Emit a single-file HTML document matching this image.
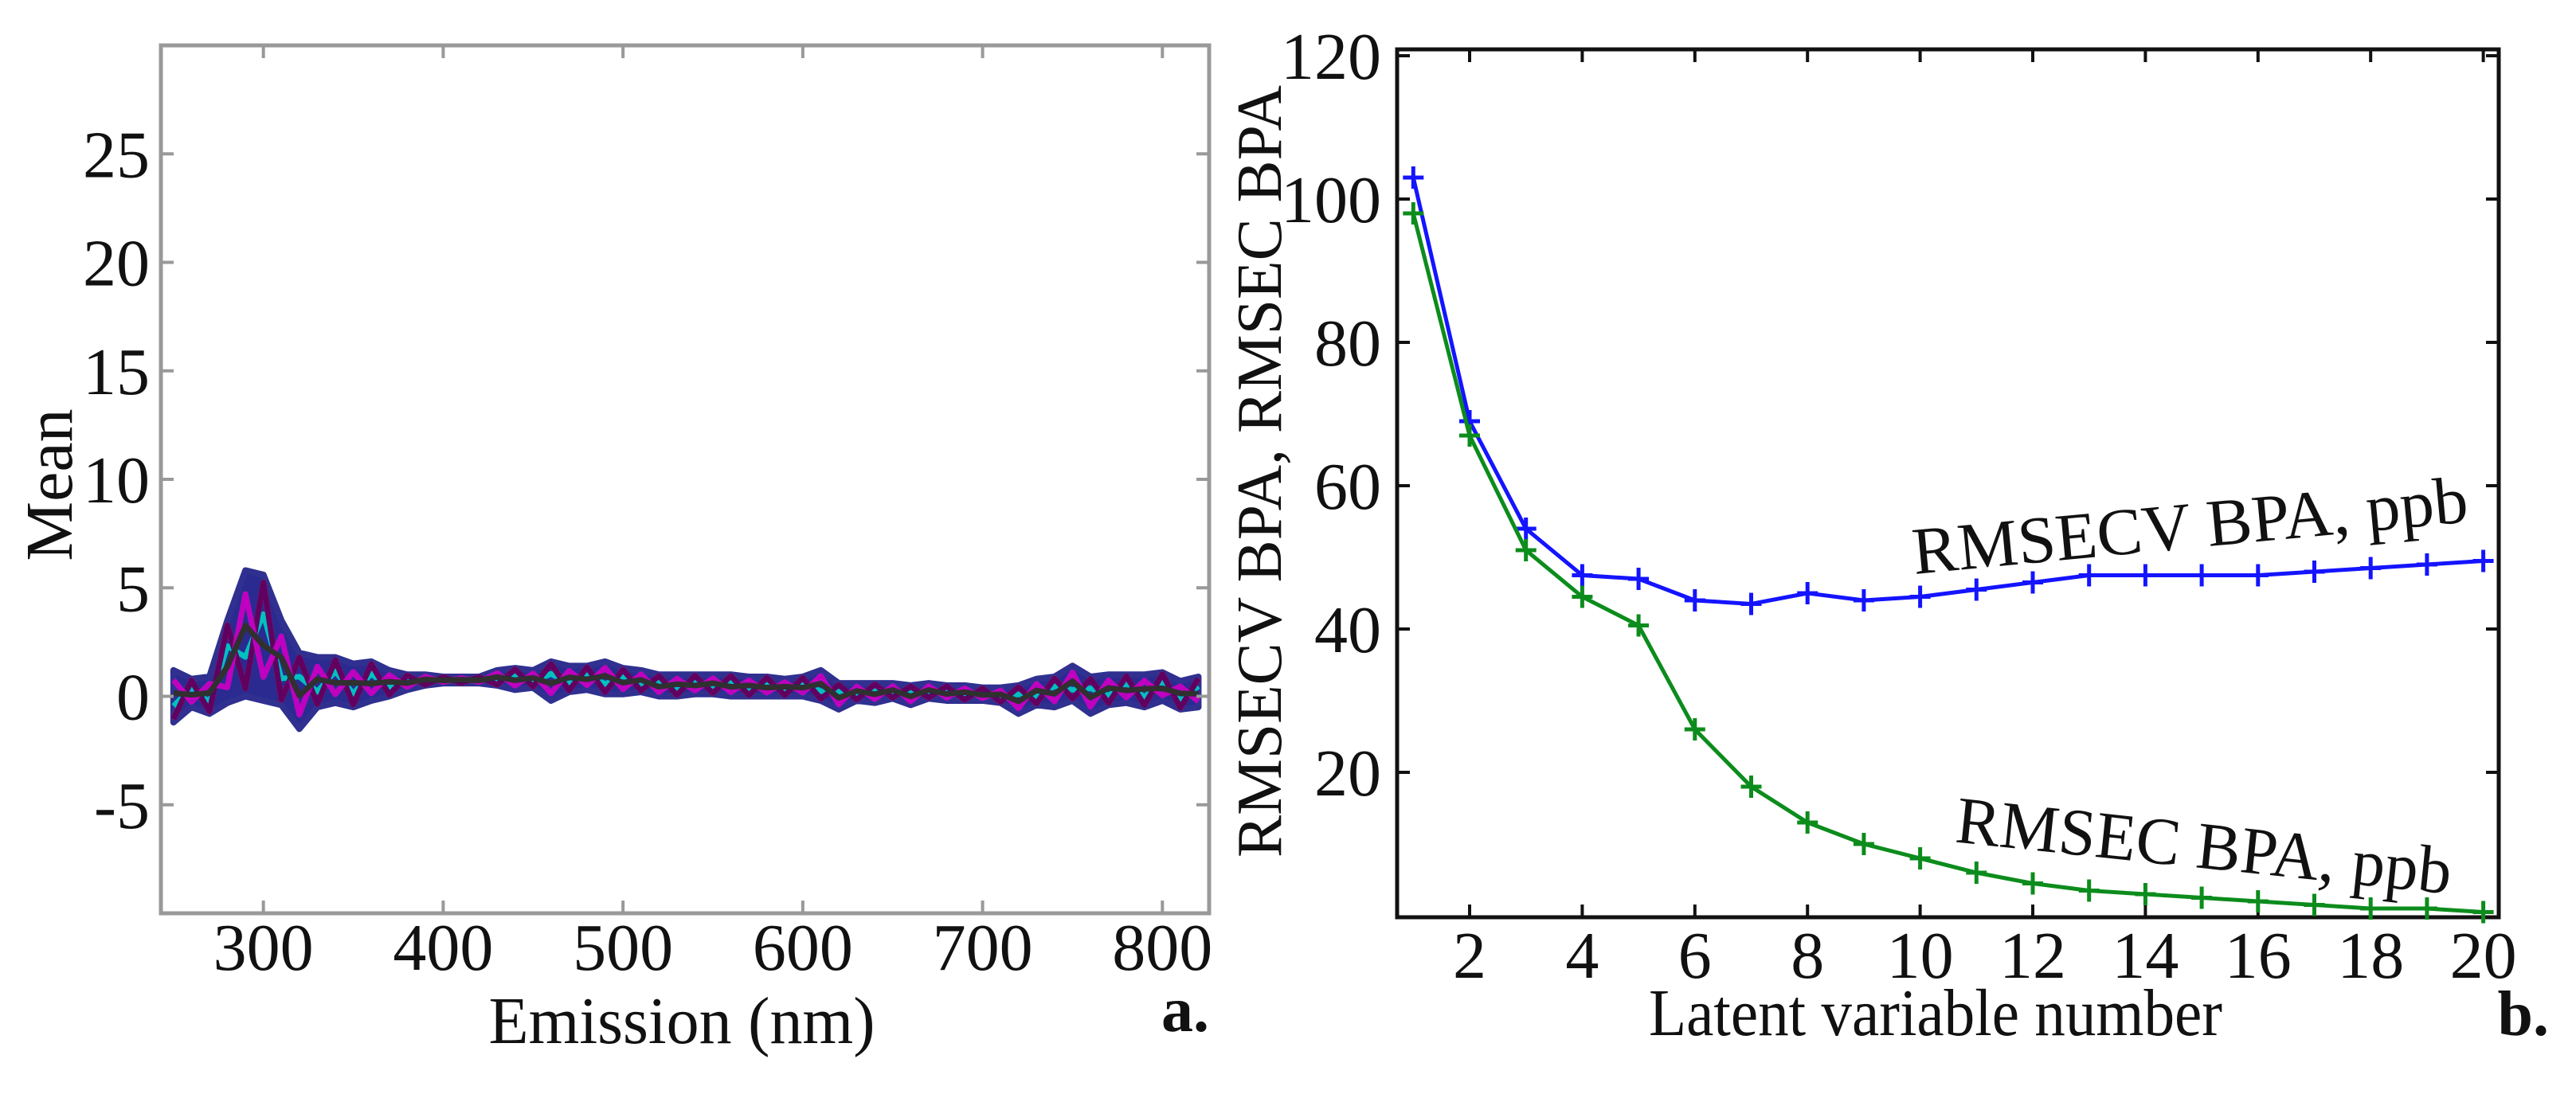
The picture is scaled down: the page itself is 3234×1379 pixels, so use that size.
<!DOCTYPE html>
<html><head><meta charset="utf-8"><style>
html,body{margin:0;padding:0;background:#fff;}
svg{display:block;}
text{font-family:"Liberation Serif",serif;fill:#111;}
</style></head><body>
<svg id="fig" width="3234" height="1379" viewBox="0 0 3234 1379" xmlns="http://www.w3.org/2000/svg">
<rect width="3234" height="1379" fill="#fff"/>
<g id="pa"></g>
<g id="pb"></g>
</svg>
<script>
// Panel a data
const wavelengths = [250,260,270,280,290,300,310,320,330,340,350,360,370,380,390,400,410,420,430,440,450,460,470,480,490,500,510,520,530,540,550,560,570,580,590,600,610,620,630,640,650,660,670,680,690,700,710,720,730,740,750,760,770,780,790,800,810,820];
const upperEnv = [1.2,0.8,0.9,3.5,5.8,5.6,3.5,2.0,1.8,1.8,1.5,1.6,1.2,1.0,1.0,0.9,0.9,0.9,1.2,1.3,1.2,1.6,1.4,1.4,1.6,1.3,1.2,1.0,1.0,1.0,1.0,1.0,0.9,0.9,0.8,0.9,1.2,0.6,0.6,0.6,0.6,0.5,0.6,0.5,0.5,0.4,0.4,0.5,0.8,0.9,1.4,0.9,1.0,1.0,1.0,1.1,0.7,0.9];
const lowerEnv = [-1.2,-0.5,-0.8,-0.3,0.0,-0.2,-0.4,-1.5,-0.5,-0.3,-0.5,-0.2,0.0,0.3,0.5,0.6,0.6,0.6,0.5,0.3,0.4,-0.2,0.2,0.3,0.1,0.1,0.2,0.0,0.0,0.1,0.1,0.0,0.0,0.0,0.0,0.0,-0.2,-0.6,-0.2,-0.3,-0.1,-0.4,-0.1,-0.2,-0.2,-0.2,-0.3,-0.8,-0.4,-0.5,-0.2,-0.8,-0.4,-0.3,-0.5,-0.2,-0.6,-0.5];
const aXTicks = [300,400,500,600,700,800];
const aYTicks = [-5,0,5,10,15,20,25];
// Panel b data
const latentVars = [1,2,3,4,5,6,7,8,9,10,11,12,13,14,15,16,17,18,19,20];
const rmsecv = [103,69,54,47.5,47,44,43.5,45,44,44.5,45.5,46.5,47.5,47.5,47.5,47.5,48,48.5,49,49.5];
const rmsec = [98,67,51,44.5,40.5,26,18,13,10,8,6,4.5,3.5,3,2.5,2,1.5,1,1,0.5];
const bXTicks = [2,4,6,8,10,12,14,16,18,20];
const bYTicks = [20,40,60,80,100,120];

const NS="http://www.w3.org/2000/svg";
function mk(parent,tag,attrs){const e=document.createElementNS(NS,tag);for(const k in attrs)e.setAttribute(k,attrs[k]);parent.appendChild(e);return e;}

// ---- Panel a ----
const pa=document.getElementById('pa');
const aL=202,aR=1518,aT=57,aB=1147;
const ax=v=>aL+(v-243)/(826-243)*(aR-aL);
const ay=v=>aB-(v+10)/40*(aB-aT);
const colors=['#e0106a','#1010e0','#008080','#d05000','#00a000','#8000c0','#0060ff','#c0a000','#ff2040','#000080','#00c0c0','#600060','#0000c0','#208040','#c000c0','#303030'];
const band=mk(pa,'path',{d:'M'+wavelengths.map((w,i)=>ax(w)+','+ay(upperEnv[i])).join('L')+'L'+wavelengths.map((w,i)=>ax(w)+','+ay(lowerEnv[i])).reverse().join('L')+'Z',fill:'#2a2a90',stroke:'#303090','stroke-width':'8','stroke-linejoin':'round'});


colors.forEach((c,k)=>{
  const f=((k*5)%8+0.5)/8;
  const pts=wavelengths.map((w,i)=>{const t=((i+k)%2===0)?f:1-f;return ax(w)+','+ay(lowerEnv[i]+(upperEnv[i]-lowerEnv[i])*t);});
  const p=mk(pa,'polyline',{points:pts.join(' '),fill:'none',stroke:c,'stroke-width':'7','stroke-linejoin':'round'});
  
  
});
const fa=mk(pa,'rect',{x:aL,y:aT,width:aR-aL,height:aB-aT,fill:'none',stroke:'#999','stroke-width':'5'});


aXTicks.forEach(v=>{
  const x=ax(v);
  mk(pa,'line',{x1:x,y1:aB,x2:x,y2:aB-16,stroke:'#999','stroke-width':'4'});
  mk(pa,'line',{x1:x,y1:aT,x2:x,y2:aT+16,stroke:'#999','stroke-width':'4'});
  const t=mk(pa,'text',{x:x,y:1218,'font-size':'84','text-anchor':'middle'});t.textContent=v;
  
  
});
aYTicks.forEach(v=>{
  const y=ay(v);
  mk(pa,'line',{x1:aL,y1:y,x2:aL+16,y2:y,stroke:'#999','stroke-width':'4'});
  mk(pa,'line',{x1:aR,y1:y,x2:aR-16,y2:y,stroke:'#999','stroke-width':'4'});
  const t=mk(pa,'text',{x:188,y:y+29,'font-size':'84','text-anchor':'end'});t.textContent=v;
  
  
});
let t=mk(pa,'text',{x:856,y:1310,'font-size':'84','text-anchor':'middle',textLength:'485',lengthAdjust:'spacingAndGlyphs'});t.textContent='Emission (nm)';


t=mk(pa,'text',{x:0,y:0,'font-size':'84','text-anchor':'middle',transform:'translate(90,609) rotate(-90)'});t.textContent='Mean';


t=mk(pa,'text',{x:1518,y:1295,'font-size':'80','font-weight':'bold','text-anchor':'end'});t.textContent='a.';



// ---- Panel b ----
const pb=document.getElementById('pb');
const bL=1754,bR=3137,bT=62,bB=1152;
const bx=v=>1845+(v-2)*70.7;
const by=v=>1150-v*9.0;
const fb=mk(pb,'rect',{x:bL,y:bT,width:bR-bL,height:bB-bT,fill:'none',stroke:'#111','stroke-width':'5'});


bXTicks.forEach(v=>{
  const x=bx(v);
  mk(pb,'line',{x1:x,y1:bB,x2:x,y2:bB-16,stroke:'#111','stroke-width':'4'});
  mk(pb,'line',{x1:x,y1:bT,x2:x,y2:bT+16,stroke:'#111','stroke-width':'4'});
  const t=mk(pb,'text',{x:x,y:1228,'font-size':'84','text-anchor':'middle'});t.textContent=v;
  
  
});
bYTicks.forEach(v=>{
  const y=by(v);
  mk(pb,'line',{x1:bL,y1:y,x2:bL+16,y2:y,stroke:'#111','stroke-width':'4'});
  mk(pb,'line',{x1:bR,y1:y,x2:bR-16,y2:y,stroke:'#111','stroke-width':'4'});
  const t=mk(pb,'text',{x:1734,y:y+29,'font-size':'84','text-anchor':'end'});t.textContent=v;
  
  
});
function series(vals,color,name){
  const g=mk(pb,'g',{});
  
  
  mk(g,'polyline',{points:latentVars.map((l,i)=>bx(l)+','+by(vals[i])).join(' '),fill:'none',stroke:color,'stroke-width':'5'});
  latentVars.forEach((l,i)=>{
    const x=bx(l),y=by(vals[i]);
    const m=mk(g,'path',{d:`M${x-13},${y}H${x+13}M${x},${y-14}V${y+14}`,stroke:color,'stroke-width':'5'});
    
    
  });
}
series(rmsecv,'#1414ff','rmsecv-series');
series(rmsec,'#0c8c1c','rmsec-series');
t=mk(pb,'text',{x:0,y:0,'font-size':'84','text-anchor':'middle',textLength:'700',lengthAdjust:'spacingAndGlyphs',transform:'translate(2752,688) rotate(-5.4)'});t.textContent='RMSECV BPA, ppb';


t=mk(pb,'text',{x:0,y:0,'font-size':'84','text-anchor':'middle',textLength:'625',lengthAdjust:'spacingAndGlyphs',transform:'translate(2764,1090) rotate(6)'});t.textContent='RMSEC BPA, ppb';


t=mk(pb,'text',{x:2430,y:1300,'font-size':'84','text-anchor':'middle',textLength:'720',lengthAdjust:'spacingAndGlyphs'});t.textContent='Latent variable number';


t=mk(pb,'text',{x:0,y:0,'font-size':'80','text-anchor':'middle',textLength:'970',lengthAdjust:'spacingAndGlyphs',transform:'translate(1608,592) rotate(-90)'});t.textContent='RMSECV BPA, RMSEC BPA';


t=mk(pb,'text',{x:3200,y:1300,'font-size':'80','font-weight':'bold','text-anchor':'end'});t.textContent='b.';


</script>
</body></html>
